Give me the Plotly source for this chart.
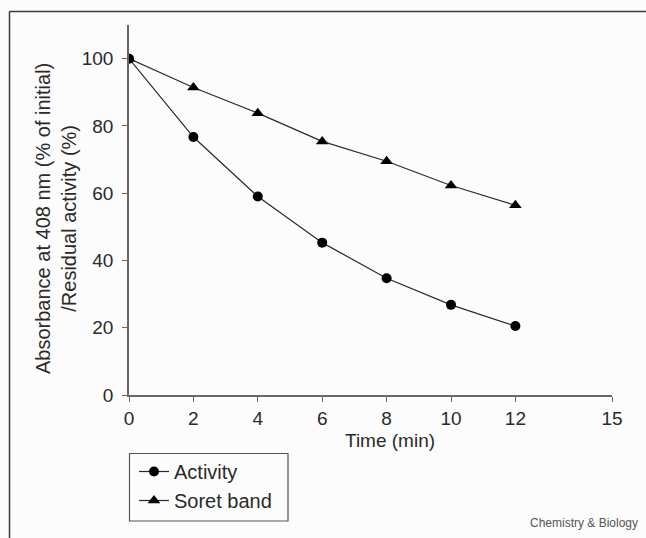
import plotly.graph_objects as go

time_min = [0, 2, 4, 6, 8, 10, 12]
activity = [100, 76.7, 59, 45.3, 34.7, 26.8, 20.5]
soret_band = [100, 91.4, 83.8, 75.4, 69.5, 62.3, 56.4]
x_ticks = [0, 2, 4, 6, 8, 10, 12, 15]
y_ticks = [0, 20, 40, 60, 80, 100]

FONT = "Liberation Sans, Arial, sans-serif"
AX = "#6e6460"
TXT = "#2a2a2a"

fig = go.Figure()
fig.add_trace(go.Scatter(
    x=time_min, y=activity, name="Activity", mode="lines+markers", legendgroup="a",
    line=dict(color="#2a2a2a", width=1.2),
    marker=dict(symbol="circle", size=10, color="#000000"),
))
fig.add_trace(go.Scatter(
    x=time_min, y=soret_band, name="Soret band", mode="lines+markers", legendgroup="b",
    line=dict(color="#2a2a2a", width=1.2),
    marker=dict(symbol="triangle-up", size=11, color="#000000"),
))

W, H = 646, 538
L, R, T, B = 129, 34, 25, 143
pw, ph = W - L - R, H - T - B

def px(x):
    return (x - L) / pw

def py(y):
    return (H - B - y) / ph

fig.update_layout(
    width=W, height=H,
    margin=dict(l=L, r=R, t=T, b=B),
    paper_bgcolor="#fcfcfc", plot_bgcolor="#fcfcfc",
    font=dict(family=FONT, color=TXT, size=19),
    showlegend=True,
    legend=dict(
        x=px(134), y=py(452), xanchor="left", yanchor="top",
        borderwidth=0, bgcolor="rgba(0,0,0,0)",
        font=dict(size=20, family=FONT, color=TXT),
        tracegroupgap=0, itemwidth=30,
    ),
    xaxis=dict(
        range=[0, 15], tickvals=x_ticks, ticktext=[str(v) for v in x_ticks],
        showgrid=False, zeroline=False, showline=True, linecolor=AX, linewidth=1.5,
        ticks="outside", ticklen=5, tickcolor=AX, tickwidth=1,
        tickfont=dict(size=19, family=FONT, color=TXT),
    ),
    yaxis=dict(
        range=[0, 110], tickvals=y_ticks, ticktext=[str(v) for v in y_ticks],
        showgrid=False, zeroline=False, showline=True, linecolor=AX, linewidth=1.5,
        ticks="outside", ticklen=5, tickcolor=AX, tickwidth=1, ticklabelstandoff=5,
        tickfont=dict(size=19, family=FONT, color=TXT),
    ),
    shapes=[
        dict(type="line", xref="paper", yref="paper", x0=px(9.5), x1=px(646), y0=py(11.5), y1=py(11.5),
             line=dict(color="#3a3a3a", width=1.5)),
        dict(type="line", xref="paper", yref="paper", x0=px(9.5), x1=px(9.5), y0=py(11.5), y1=py(538),
             line=dict(color="#3a3a3a", width=1.5)),
        dict(type="rect", xref="paper", yref="paper", x0=px(129.5), x1=px(288), y0=py(453.5), y1=py(521),
             line=dict(color="#555555", width=1.2)),
    ],
    annotations=[
        dict(text="Absorbance at 408 nm (% of initial)<br>/Residual activity (%)",
             xref="paper", yref="paper", x=px(56), y=py(219), textangle=-90,
             xanchor="center", yanchor="middle", showarrow=False, align="center",
             font=dict(size=20, family=FONT, color=TXT)),
        dict(text="Time (min)", xref="paper", yref="paper", x=px(390), y=py(440),
             xanchor="center", yanchor="middle", showarrow=False,
             font=dict(size=19, family=FONT, color=TXT)),
        dict(text="Chemistry &amp; Biology", xref="paper", yref="paper", x=px(640), y=py(523),
             xanchor="right", yanchor="middle", showarrow=False,
             font=dict(size=12, family=FONT, color="#555555")),
    ],
)

fig.write_html("out.html")
